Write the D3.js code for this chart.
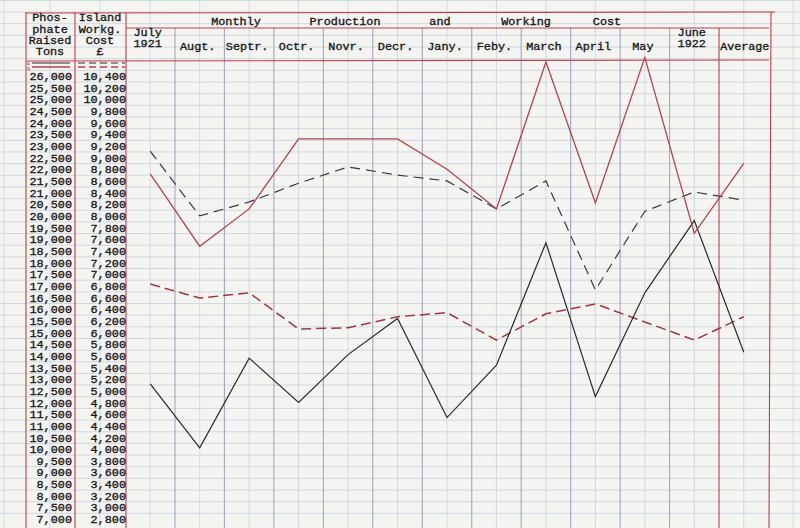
<!DOCTYPE html>
<html>
<head>
<meta charset="utf-8">
<script src="https://cdn.jsdelivr.net/npm/d3@7"></script>
<style>
  html, body { margin: 0; padding: 0; background: #f4f4f1; }
  svg { display: block; }
  text { font-family: "Liberation Mono", "DejaVu Sans Mono", monospace; fill: #181818; stroke: #181818; stroke-width: 0.3px; }
</style>
</head>
<body>
<script>
// ---------------- DATA ----------------
const monthLabels = [["July","1921"],["Augt."],["Septr."],["Octr."],["Novr."],["Decr."],
  ["Jany."],["Feby."],["March"],["April"],["May"],["June","1922"],["Average"]];
const months = monthLabels.map(d => d.join(" "));
const titleWords = ["Monthly","Production","and","Working","Cost"];
const tonTicks = d3.range(26000, 6999, -500);           // 26,000 ... 7,000
const costTicks = d3.range(10400, 2799, -200);          // 10,400 ... 2,800

// Phosphate raised (tons) – solid lines, left scale
const nauruTons = [21800, 18700, 20300, 23300, 23300, 23300, 22000, 20300, 26600, 20550, 26800, 19250, 22250];
const oceanTons = [12800, 10050, 13900, 12000, 14050, 15600, 11350, 13600, 18850, 12250, 16700, 19800, 14150];
// Island working cost (£) – dashed lines, right scale
const nauruCost = [6830, 6590, 6680, 6060, 6080, 6270, 6340, 5870, 6320, 6490, 6180, 5870, 6270];
const oceanCost = [9110, 8000, 8240, 8560, 8840, 8700, 8600, 8120, 8600, 6730, 8080, 8410, 8270];

// ---------------- LAYOUT ----------------
const W = 800, H = 528;
const RED = "#bf3d4a", BLACK = "#2a2a2a";
const FS = 10, CW = 7.1;   // font size, typewriter character pitch
const svg = d3.select("body").append("svg").attr("width", W).attr("height", H);

const x = d3.scaleBand().domain(months).range([125.5, 768.5]).padding(0);
const y = d3.scaleLinear().domain([7000, 26000]).range([519, 76]);
const yc = d3.scaleLinear().domain([2800, 10400]).range([519, 76]);
const step = y(25500) - y(26000);

function typed(sel) {
  sel.attr("font-size", FS)
     .attr("textLength", function() { return this.textContent.length * CW; })
     .attr("lengthAdjust", "spacingAndGlyphs");
}

// paper background grid (horizontal rules)
const hLines = d3.range(-3, 44).map(i => y(26000) + 6 + (i - 6) * step);
svg.append("g").selectAll("line").data(hLines).join("line")
  .attr("x1", 0).attr("x2", W).attr("y1", d => d).attr("y2", d => d)
  .attr("stroke", "#cdd8e4").attr("stroke-width", 1);

// light vertical rules at column centres
const centres = months.map(m => x(m) + x.bandwidth() / 2);
svg.append("g").selectAll("line").data(centres.concat([x.range()[1] + x.bandwidth()/2, 4, 50, 100])).join("line")
  .attr("x1", d => d).attr("x2", d => d).attr("y1", 0).attr("y2", H)
  .attr("stroke", "#d3d9e4").attr("stroke-width", 1);

// column boundaries (blue-grey)
const bounds = months.slice(1, 12).map(m => x(m));
svg.append("g").selectAll("line").data(bounds).join("line")
  .attr("x1", d => d).attr("x2", d => d).attr("y1", 28).attr("y2", H)
  .attr("stroke", "#a3a6c6").attr("stroke-width", 1.1);

// red frame lines
const redLines = [
  [26, 12, 26, H], [75, 12, 75, H], [126, 12, 126, H],
  [x("Average"), 28, x("Average"), H], [771, 12, 769, H],
  [26, 13, 775, 12], [126, 28, 769, 28], [26, 61, 769, 60]
];
svg.append("g").selectAll("line").data(redLines).join("line")
  .attr("x1", d => d[0]).attr("y1", d => d[1]).attr("x2", d => d[2]).attr("y2", d => d[3])
  .attr("stroke", RED).attr("stroke-width", 1.1);

// ---------------- HEADERS ----------------
const hdr = svg.append("g");
const leftHead = [["Phos-",21],["phate",33],["Raised",44],["Tons",55]];
const rightHead = [["Island",21],["Workg.",33],["Cost",44],["£",55]];
hdr.selectAll(".lh").data(leftHead).join("text").attr("x", 50).attr("y", d => d[1])
  .attr("text-anchor", "middle").text(d => d[0]).call(typed);
hdr.selectAll(".rh").data(rightHead).join("text").attr("x", 100).attr("y", d => d[1])
  .attr("text-anchor", "middle").text(d => d[0]).call(typed);
const titleX = [236, 345, 440, 526, 607];
hdr.selectAll(".tw").data(titleWords).join("text").attr("x", (d, i) => titleX[i]).attr("y", 25)
  .attr("text-anchor", "middle").text(d => d).call(typed);
monthLabels.forEach((lines, i) => {
  const cx = x(months[i]) + x.bandwidth() / 2;
  lines.forEach((t, j) => {
    const tx = hdr.append("text").attr("x", lines.length > 1 ? x(months[i]) + 8 : cx - 2)
      .attr("y", lines.length > 1 ? 36 + j * 11 : 50)
      .attr("text-anchor", lines.length > 1 ? "start" : "middle")
      .text(t).call(typed);
    if (months[i] === "Average") tx.attr("textLength", t.length * 7.0).attr("x", cx + 1);
  });
});

// legend keys under the scale headers
const lg = svg.append("g");
lg.append("line").attr("x1", 32).attr("x2", 70).attr("y1", 63).attr("y2", 63).attr("stroke", BLACK).attr("stroke-width", 1.2);
lg.append("line").attr("x1", 32).attr("x2", 70).attr("y1", 67).attr("y2", 67).attr("stroke", RED).attr("stroke-width", 1.4);
lg.append("line").attr("x1", 78).attr("x2", 125).attr("y1", 63).attr("y2", 63).attr("stroke", BLACK).attr("stroke-width", 1.2).attr("stroke-dasharray", "7,4");
lg.append("line").attr("x1", 78).attr("x2", 125).attr("y1", 67).attr("y2", 67).attr("stroke", RED).attr("stroke-width", 1.4).attr("stroke-dasharray", "7,4");
lg.append("text").attr("x", 27).attr("y", 64.5).attr("font-size", 4.5).style("stroke-width", 0).text("o");
lg.append("text").attr("x", 27).attr("y", 71).attr("font-size", 5.5).style("fill", RED).style("stroke-width", 0).text("N");

// ---------------- AXES (typed scales) ----------------
const fmt = d3.format(",");
const axL = d3.axisLeft(y).tickValues(tonTicks).tickSize(0).tickPadding(0).tickFormat(fmt);
const axR = d3.axisLeft(yc).tickValues(costTicks).tickSize(0).tickPadding(0).tickFormat(fmt);
const gL = svg.append("g").attr("transform", "translate(72,0)").call(axL);
const gR = svg.append("g").attr("transform", "translate(126,0)").call(axR);
[gL, gR].forEach(g => {
  g.select(".domain").remove();
  g.selectAll("text").attr("font-family", "Liberation Mono, monospace")
    .style("fill", "#151515").attr("dy", "0.36em").call(typed);
});

// ---------------- SERIES ----------------
const cx = (d, i) => x(months[i]) + x.bandwidth() / 2;
const lineT = d3.line().x(cx).y(d => y(d));
const lineC = d3.line().x(cx).y(d => yc(d));
const series = [
  { data: oceanCost, gen: lineC, color: "#3a3a3a", dash: "10,6", w: 1.2 },
  { data: nauruCost, gen: lineC, color: "#a8323e", dash: "10,5", w: 1.5 },
  { data: oceanTons, gen: lineT, color: BLACK, dash: null, w: 1.2 },
  { data: nauruTons, gen: lineT, color: "#b9404c", dash: null, w: 1.3 }
];
svg.append("g").selectAll("path").data(series).join("path")
  .attr("d", s => s.gen(s.data)).attr("fill", "none")
  .attr("stroke", s => s.color).attr("stroke-width", s => s.w)
  .attr("stroke-dasharray", s => s.dash)
  .attr("stroke-linejoin", "miter");
</script>
</body>
</html>
